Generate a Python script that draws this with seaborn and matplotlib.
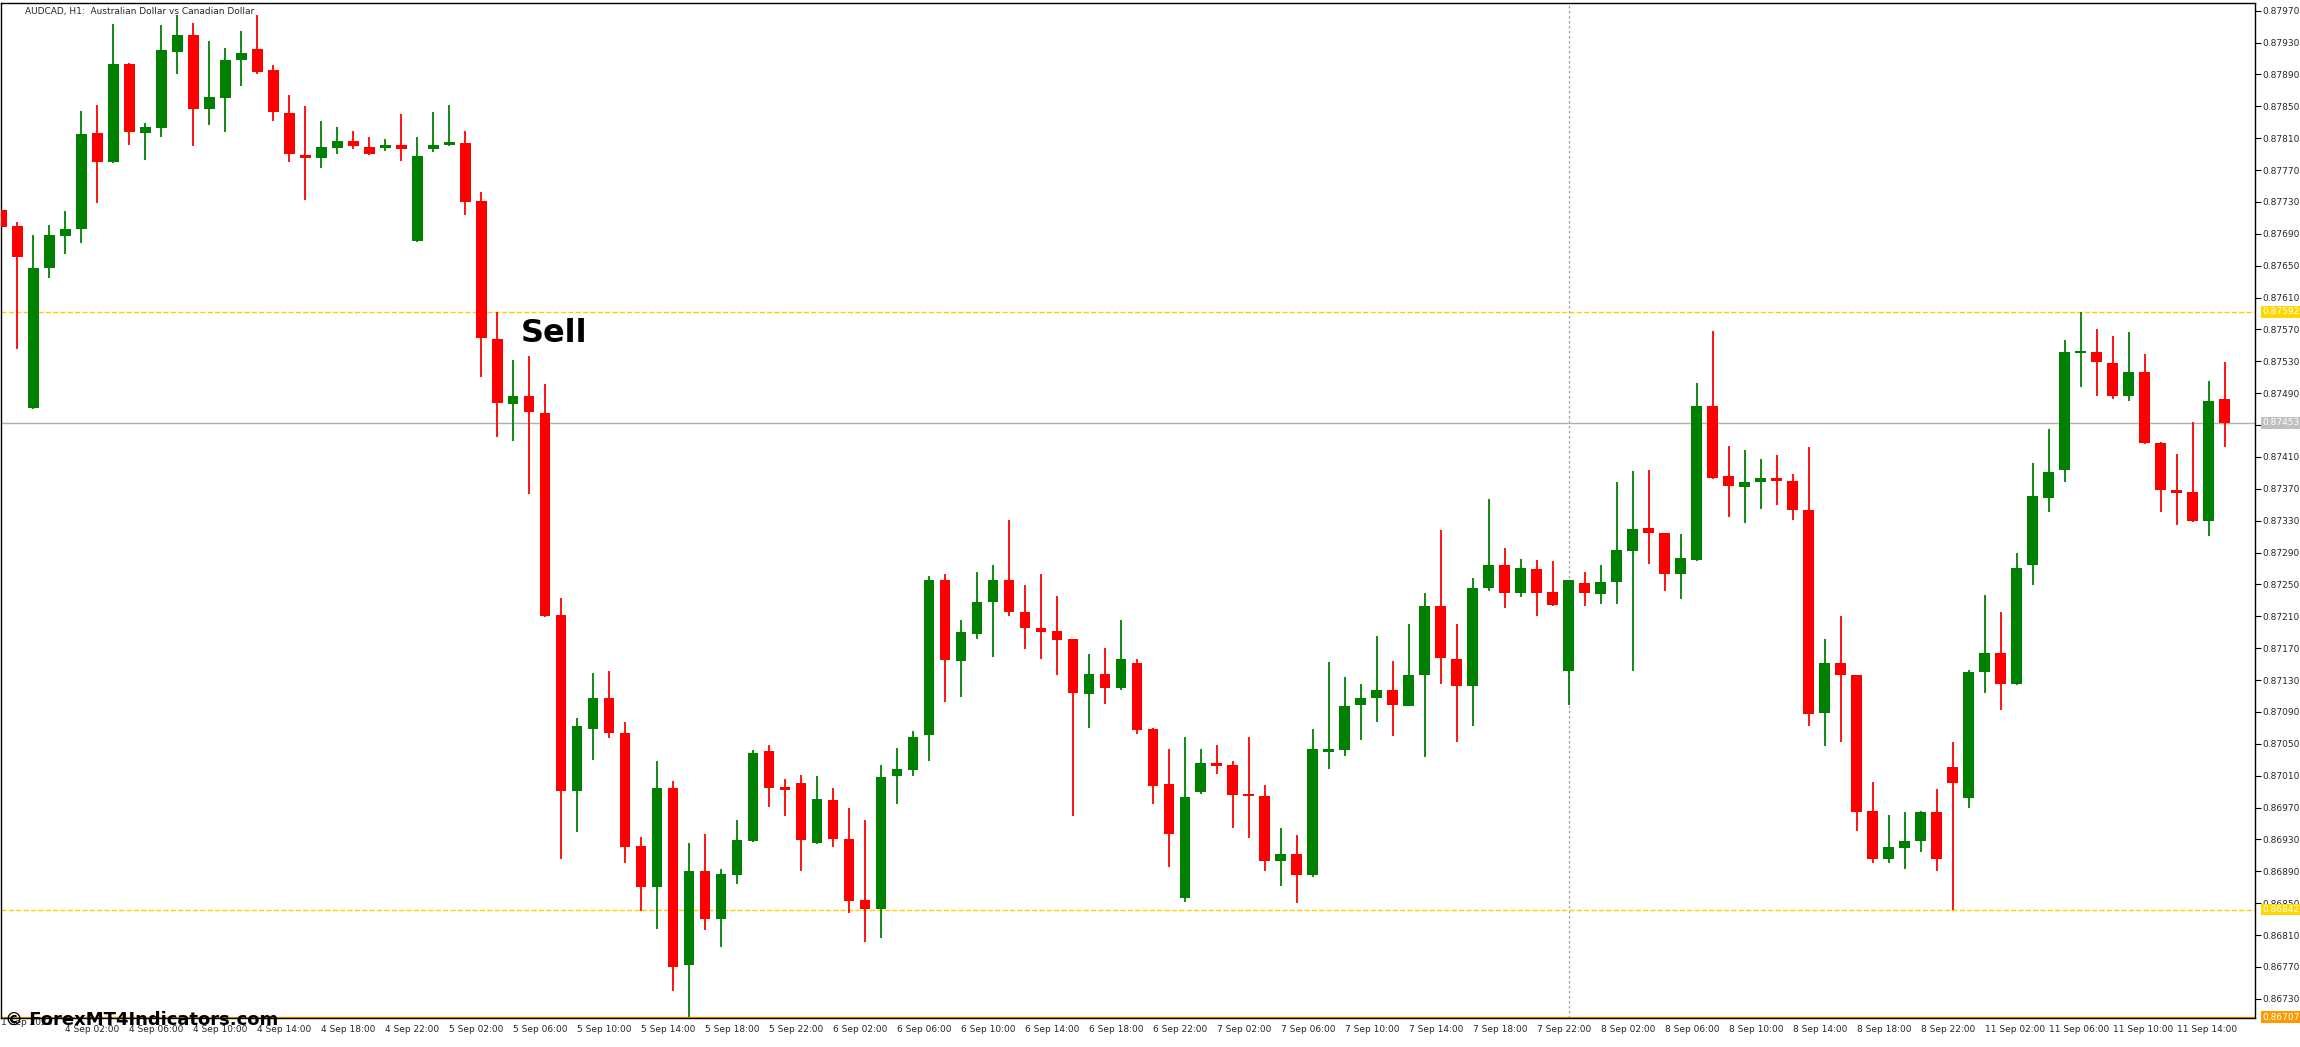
import matplotlib
matplotlib.use("Agg")
import matplotlib.pyplot as plt
import matplotlib.transforms as mtransforms
import numpy as np
import seaborn as sns

sns.set_theme(style="white")
plt.rcParams['font.family'] = ['DejaVu Sans']

# AUDCAD H1 candles, prices in points (1e-5)
opens = [87720, 87700, 87472, 87647, 87687, 87696, 87816, 87780, 87903, 87817,
         87823, 87918, 87939, 87847, 87860, 87908, 87922, 87895, 87842, 87789,
         87785, 87798, 87807, 87799, 87798, 87801, 87681, 87797, 87801, 87804,
         87731, 87558, 87477, 87487, 87465, 87212, 86991, 87069, 87107, 87063,
         86922, 86870, 86994, 86772, 86890, 86830, 86885, 86928, 87041, 86996,
         87001, 86925, 86979, 86930, 86854, 86843, 87010, 87017, 87061, 87255,
         87154, 87188, 87228, 87256, 87215, 87195, 87191, 87181, 87112, 87138,
         87120, 87152, 87068, 87000, 86856, 86989, 87026, 87023, 86986, 86984,
         86903, 86912, 86885, 87040, 87042, 87099, 87107, 87118, 87097, 87137,
         87223, 87157, 87123, 87246, 87275, 87239, 87270, 87240, 87142, 87252,
         87238, 87253, 87292, 87321, 87314, 87263, 87281, 87474, 87386, 87372,
         87379, 87384, 87380, 87344, 87089, 87152, 87136, 86966, 86906, 86919,
         86928, 86965, 87021, 86982, 87140, 87164, 87125, 87274, 87359, 87394,
         87541, 87542, 87528, 87487, 87517, 87428, 87369, 87366, 87329, 87483]
highs = [87723, 87705, 87688, 87701, 87719, 87844, 87852, 87953, 87904, 87829,
         87952, 87965, 87955, 87932, 87923, 87945, 87965, 87902, 87864, 87850,
         87832, 87824, 87819, 87812, 87809, 87840, 87812, 87843, 87852, 87819,
         87742, 87592, 87532, 87537, 87502, 87233, 87082, 87139, 87142, 87077,
         86933, 87029, 87003, 86925, 86937, 86893, 86954, 87042, 87048, 87006,
         87011, 87010, 86994, 86969, 86954, 87023, 87045, 87066, 87260, 87263,
         87206, 87266, 87275, 87331, 87249, 87263, 87236, 87182, 87163, 87170,
         87206, 87156, 87070, 87044, 87059, 87044, 87049, 87029, 87059, 86998,
         86944, 86936, 87068, 87153, 87134, 87125, 87185, 87154, 87200, 87239,
         87318, 87200, 87258, 87357, 87296, 87282, 87281, 87280, 87256, 87266,
         87275, 87379, 87392, 87394, 87315, 87313, 87503, 87568, 87424, 87419,
         87408, 87413, 87389, 87422, 87181, 87211, 87137, 87002, 86961, 86965,
         86966, 86993, 87052, 87143, 87237, 87216, 87290, 87402, 87445, 87557,
         87592, 87571, 87562, 87567, 87539, 87429, 87414, 87454, 87505, 87529]
lows = [87695, 87546, 87470, 87634, 87665, 87679, 87729, 87779, 87801, 87783,
        87812, 87891, 87800, 87827, 87818, 87875, 87890, 87832, 87780, 87733,
        87773, 87790, 87796, 87789, 87794, 87781, 87680, 87792, 87800, 87714,
        87510, 87435, 87430, 87364, 87209, 86905, 86939, 87030, 87057, 86900,
        86840, 86818, 86740, 86707, 86817, 86795, 86874, 86927, 86971, 86960,
        86890, 86924, 86920, 86838, 86801, 86807, 86974, 87010, 87028, 87102,
        87109, 87182, 87159, 87211, 87169, 87157, 87137, 86959, 87070, 87100,
        87117, 87062, 86974, 86896, 86851, 86987, 87012, 86944, 86932, 86890,
        86872, 86850, 86883, 87019, 87035, 87055, 87077, 87060, 87097, 87034,
        87125, 87052, 87072, 87242, 87220, 87234, 87211, 87223, 87099, 87223,
        87225, 87226, 87142, 87276, 87242, 87232, 87280, 87382, 87335, 87327,
        87345, 87350, 87331, 87072, 87047, 87052, 86941, 86900, 86900, 86893,
        86914, 86891, 86842, 86969, 87114, 87092, 87124, 87249, 87341, 87379,
        87498, 87487, 87483, 87480, 87426, 87341, 87324, 87328, 87311, 87422]
closes = [87698, 87661, 87647, 87688, 87696, 87815, 87780, 87903, 87818, 87824,
          87920, 87939, 87847, 87862, 87908, 87917, 87893, 87843, 87790, 87785,
          87799, 87807, 87800, 87790, 87801, 87796, 87787, 87802, 87805, 87730,
          87559, 87478, 87487, 87466, 87210, 86991, 87072, 87107, 87064, 86920,
          86870, 86995, 86770, 86890, 86830, 86887, 86929, 87038, 86994, 86992,
          86929, 86981, 86931, 86853, 86843, 87009, 87018, 87059, 87255, 87155,
          87190, 87228, 87256, 87216, 87195, 87190, 87180, 87114, 87138, 87120,
          87156, 87067, 86997, 86937, 86983, 87026, 87022, 86986, 86984, 86903,
          86912, 86886, 87043, 87043, 87098, 87107, 87118, 87099, 87137, 87223,
          87158, 87122, 87246, 87274, 87239, 87271, 87239, 87224, 87255, 87239,
          87253, 87293, 87320, 87314, 87263, 87283, 87474, 87384, 87374, 87379,
          87384, 87380, 87344, 87087, 87152, 87137, 86965, 86905, 86920, 86928,
          86964, 86906, 87001, 87140, 87164, 87125, 87271, 87361, 87391, 87542,
          87543, 87529, 87487, 87517, 87427, 87368, 87365, 87330, 87480, 87453]

tick_pos = list(range(4, 137, 4))
tick_labels = ([f"4 Sep {h:02d}:00" for h in (2, 6, 10, 14, 18, 22)]
               + [f"5 Sep {h:02d}:00" for h in (2, 6, 10, 14, 18, 22)]
               + [f"6 Sep {h:02d}:00" for h in (2, 6, 10, 14, 18, 22)]
               + [f"7 Sep {h:02d}:00" for h in (2, 6, 10, 14, 18, 22)]
               + [f"8 Sep {h:02d}:00" for h in (2, 6, 10, 14, 18, 22)]
               + [f"11 Sep {h:02d}:00" for h in (2, 6, 10, 14)])

levels = {0.87592: ('#FFD700', '--'), 0.86842: ('#FFD700', '--'),
          0.87453: ('#C0C0C0', '-'), 0.86707: ('#FF9900', '-')}
line_cols = {0.87592: '#FFD000', 0.86842: '#FFD000', 0.87453: '#B0B0B0', 0.86707: '#FF9900'}

o = np.array(opens) / 1e5
h = np.array(highs) / 1e5
l = np.array(lows) / 1e5
c = np.array(closes) / 1e5
x = np.arange(len(o))
up = c >= o
cols = np.where(up, '#008000', '#FF0000')

fig = plt.figure(figsize=(23, 10.47), dpi=100)
ax = fig.add_axes([0.0005, 0.0277, 0.98, 0.969])
ax.set_facecolor('white')

ax.vlines(x, l, h, colors=cols, linewidth=1.3, zorder=2)
bottom = np.minimum(o, c)
height = np.maximum(np.abs(c - o), 0.000025)
ax.bar(x, height, bottom=bottom, width=0.68, color=cols, linewidth=0, zorder=3)

tr = mtransforms.blended_transform_factory(ax.transAxes, ax.transData)
for lvl, (fc, ls) in levels.items():
    ax.axhline(lvl, color=line_cols[lvl], linestyle=ls, linewidth=1.0, zorder=1)
    ax.text(1.003, lvl, f"{lvl:.5f}", transform=tr, fontsize=6.5, color='white',
            va='center', ha='left', clip_on=False, zorder=6,
            bbox=dict(boxstyle='square,pad=0.15', facecolor=fc, edgecolor='none'))
ax.axvline(98, color='#A0A0A0', linestyle=(0, (2, 2)), linewidth=0.9, zorder=1)

ax.set_xlim(0, 140.9)
ax.set_ylim(0.86706, 0.87979)
ax.yaxis.tick_right()
yt = np.arange(86730, 87971, 40) / 1e5
ax.set_yticks(yt)
ax.set_yticklabels([f"{v:.5f}" for v in yt], fontsize=6.5)
ax.set_xticks(tick_pos)
ax.set_xticklabels(tick_labels, fontsize=6.5, ha='left')
ax.tick_params(axis='both', direction='out', length=4, width=0.8, color='black', pad=1)
for s in ax.spines.values():
    s.set_color('black')
    s.set_linewidth(1.0)
ax.grid(False)

ax.text(32.5, 0.87565, "Sell", fontsize=23, fontweight='bold', color='black',
        va='center', ha='left', zorder=5)
fig.text(0.0005, 0.0277, "1 Sep 2023", fontsize=6.5, va='top', ha='left')
fig.text(0.011, 0.993, "AUDCAD, H1:  Australian Dollar vs Canadian Dollar",
         fontsize=6.5, va='top', ha='left')
fig.text(0.002, 0.026, "© ForexMT4Indicators.com", fontsize=13, fontweight='bold',
         va='center', ha='left', color='black', zorder=10)

fig.savefig("out.png", dpi=100, facecolor='white')
